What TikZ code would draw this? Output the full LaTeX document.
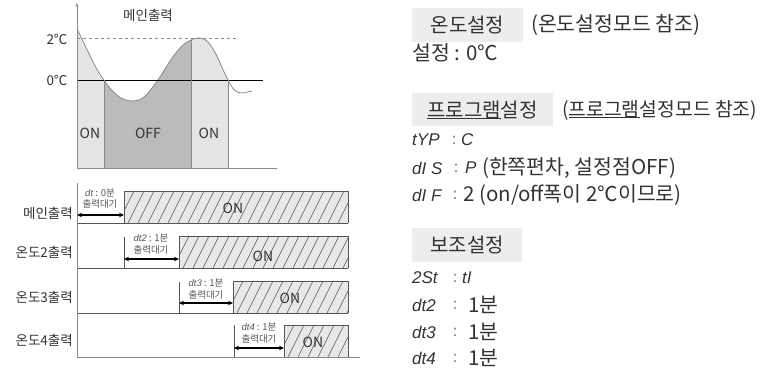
\documentclass[tikz,border=0pt]{standalone}
\usepackage{fontspec}
\setmainfont{Noto Sans CJK KR}
\newfontfamily\seg{Liberation Sans}
\usetikzlibrary{arrows.meta}
\definecolor{txt}{HTML}{333333}
\definecolor{lightfill}{HTML}{E4E4E4}
\definecolor{darkfill}{HTML}{BBBBBB}
\definecolor{onfill}{HTML}{E8E8E8}
\definecolor{hatchc}{HTML}{555555}
\definecolor{headfill}{HTML}{EDEDED}
\definecolor{axisc}{HTML}{8A8A8A}
\newcommand\ulkr[1]{\setbox0\hbox{#1}\rlap{\rule[-0.1em]{\wd0}{0.05em}}#1}
\tikzset{
  lbl/.style={inner sep=0pt, text=txt, font=\fontsize{13.5}{14}\selectfont},
  onlbl/.style={inner sep=0pt, text=txt, font=\fontsize{14}{15}\selectfont},
  small/.style={inner sep=0pt, text=hatchc, font=\fontsize{9.5}{10}\selectfont},
  head/.style={inner sep=0pt, text=txt, font=\fontsize{20}{21}\selectfont},
  body/.style={inner sep=0pt, text=txt, anchor=west, font=\fontsize{20.5}{21}\selectfont},
  segtxt/.style={inner sep=0pt, text=txt, anchor=west, font={\seg\itshape\fontsize{17}{18}\selectfont}},
  colon/.style={inner sep=0pt, text=axisc, font=\fontsize{16}{17}\selectfont},
  hatch/.style={draw=hatchc, line width=0.5pt},
  boxline/.style={draw=hatchc, line width=0.8pt},
  axisline/.style={draw=axisc, line width=1pt},
  sepline/.style={draw=hatchc, line width=0.8pt},
  waitarrow/.style={{Stealth[length=5pt,width=4.5pt]}-{Stealth[length=5pt,width=4.5pt]}, line width=1.1pt, black},
}
\newcommand\hatchbox[4]{%
  \fill[onfill] (#1,#2) rectangle (#3,#4);
  \begin{scope}
    \clip (#1,#2) rectangle (#3,#4);
    \foreach \hx in {0,10,...,280} \draw[hatch] ({#1-16+\hx},#4) -- ({#1+\hx},#2);
  \end{scope}
  \draw[boxline] (#1,#4) -- (#1,#2) -- (#3,#2) -- (#3,#4);
}
\begin{document}
\begin{tikzpicture}[x=1pt,y=-1pt]
\useasboundingbox (0,0) rectangle (763,372);
% ---------- top chart ----------
\def\curve{(77,29) .. controls (90,55) and (96,70) .. (104,80)
  .. controls (114,95) and (122,101) .. (133,101)
  .. controls (145,101) and (150,90) .. (158,80)
  .. controls (168,65) and (178,45) .. (191,40)
  .. controls (195,38) and (197,38) .. (200,38)
  .. controls (212,38) and (220,65) .. (228,80)
  .. controls (233,90) and (236,93) .. (242,93)
  .. controls (246,93) and (249,91) .. (252,91)}
\begin{scope}
  \clip \curve -- (252,168) -- (77,168) -- cycle;
  \fill[lightfill] (77,0) rectangle (228,168);
  \fill[darkfill] (104,0) rectangle (191,168);
\end{scope}
\draw[axisc, line width=0.8pt] \curve;
\draw[axisc, dashed, line width=0.6pt] (77,38) -- (236,38);
\draw[black, line width=0.8pt] (77,80) -- (263,80);
\draw[axisc, line width=1pt] (104,80) -- (104,168);
\draw[axisc, line width=1pt] (191,40) -- (191,168);
\draw[axisc, line width=1pt] (228,80) -- (228,168);
\coordinate (yaxb) at (77,168);
\coordinate (yaxt) at (77,3);
\coordinate (xaxr) at (277,168);
\draw[axisline, -{Stealth[length=4pt,width=3pt]}] (yaxb) -- (yaxt);
\draw[axisline] (yaxb) -- (xaxr);
\node[lbl] (ttitle) at (148,15) {메인출력};
\node[lbl] (t2c) at (57,39) {2℃};
\node[lbl] (t0c) at (57,80) {0℃};
\node[onlbl] (ton1) at (90,133) {ON};
\node[onlbl] (toff) at (148,133) {OFF};
\node[onlbl] (ton2) at (209,133) {ON};
% ---------- bottom chart ----------
\hatchbox{124}{191}{348}{223}
\hatchbox{179}{236}{348}{268}
\hatchbox{233}{281}{348}{313}
\hatchbox{284}{325}{348}{357}
\draw[sepline] (77,223) -- (348,223);
\draw[sepline] (77,268) -- (348,268);
\draw[sepline] (77,313) -- (348,313);
\draw[sepline] (124,237) -- (124,268);
\draw[sepline] (179,282) -- (179,313);
\draw[sepline] (234,325) -- (234,357);
\coordinate (baxt) at (77,183);
\coordinate (baxb) at (77,357);
\coordinate (baxr) at (360,357);
\draw[axisline] (baxt) -- (baxb) -- (baxr);
\node[onlbl] (on1) at (233,208) {ON};
\node[onlbl] (on2) at (263,256) {ON};
\node[onlbl] (on3) at (290,298) {ON};
\node[onlbl] (on4) at (313,342) {ON};
\node[lbl, anchor=east] (r1) at (73,213) {메인출력};
\node[lbl, anchor=east] (r2) at (73,252) {온도2출력};
\node[lbl, anchor=east] (r3) at (73,297) {온도3출력};
\node[lbl, anchor=east] (r4) at (73,340) {온도4출력};
\node[small] (w1a) at (100,193) {{\seg\itshape dt} : 0분};
\node[small] (w1b) at (100,204) {출력대기};
\node[small] (w2a) at (151,238) {{\seg\itshape dt2} : 1분};
\node[small] (w2b) at (151,250) {출력대기};
\node[small] (w3a) at (206,283) {{\seg\itshape dt3} : 1분};
\node[small] (w3b) at (206,295) {출력대기};
\node[small] (w4a) at (259,327) {{\seg\itshape dt4} : 1분};
\node[small] (w4b) at (259,339) {출력대기};
\coordinate (a1l) at (77,215);  \coordinate (a1r) at (124,215);
\coordinate (a2l) at (124,259); \coordinate (a2r) at (179,259);
\coordinate (a3l) at (179,303); \coordinate (a3r) at (233,303);
\coordinate (a4l) at (234,348); \coordinate (a4r) at (284,348);
\draw[waitarrow] (a1l) -- (a1r);
\draw[waitarrow] (a2l) -- (a2r);
\draw[waitarrow] (a3l) -- (a3r);
\draw[waitarrow] (a4l) -- (a4r);
% ---------- right panel ----------
\fill[headfill] (412,8) rectangle (523,42);
\node[head] (h1) at (467.5,25) {온도설정};
\node[body] (h1r) at (531,25) {(온도설정모드 참조)};
\node[body] (set) at (412,53) {설정 : 0℃};
\fill[headfill] (412,93) rectangle (553,126);
\node[head] (h2) at (482.5,110) {\ulkr{프로그램}설정};
\node[body, font=\fontsize{19.3}{20}\selectfont] (h2r) at (562,110) {(\ulkr{프로그램}설정모드 참조)};
\node[segtxt] (k1) at (412,140) {tYP};
\node[colon] (c1) at (454,140) {:};
\node[segtxt] (v1) at (461,140) {C};
\node[segtxt] (k2) at (412,168) {dI S};
\node[colon] (c2) at (456,168) {:};
\node[segtxt] (v2a) at (465,168) {P};
\node[body] (v2b) at (482,168) {(한쪽편차, 설정점OFF)};
\node[segtxt] (k3) at (412,195) {dI F};
\node[colon] (c3) at (455,195) {:};
\node[body] (v3) at (463,195) {2 (on/off폭이 2℃이므로)};
\fill[headfill] (412,228) rectangle (522,262);
\node[head] (h3) at (467,245) {보조설정};
\node[segtxt] (k4) at (412,278) {2St};
\node[colon] (c4) at (455,278) {:};
\node[segtxt] (v4) at (462,278) {tI};
\node[segtxt] (k5) at (412,305) {dt2};
\node[colon] (c5) at (455,305) {:};
\node[body] (v5) at (468,305) {1분};
\node[segtxt] (k6) at (412,332) {dt3};
\node[colon] (c6) at (455,332) {:};
\node[body] (v6) at (468,332) {1분};
\node[segtxt] (k7) at (412,358) {dt4};
\node[colon] (c7) at (455,358) {:};
\node[body] (v7) at (468,358) {1분};
\end{tikzpicture}
\end{document}
